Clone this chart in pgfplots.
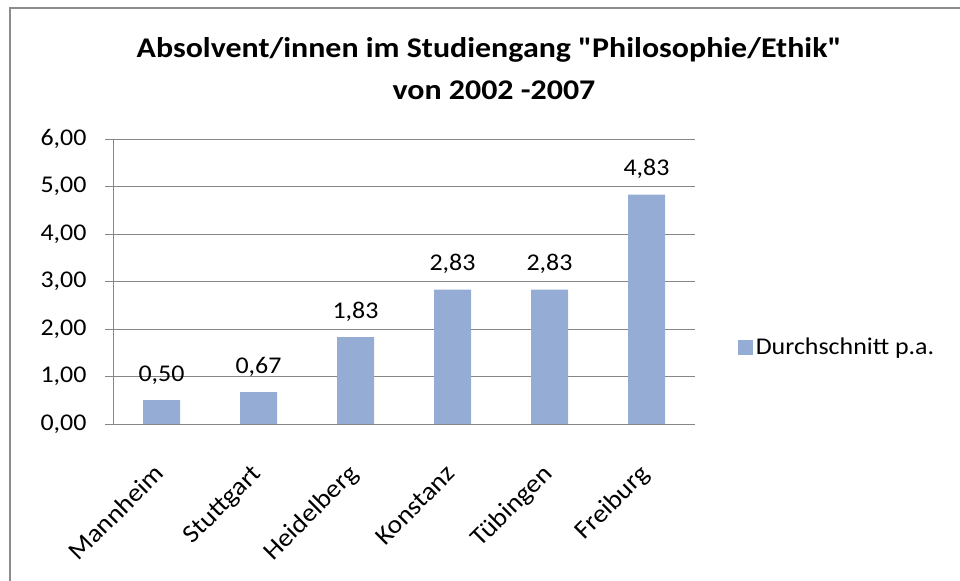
\documentclass[border=0pt]{standalone}
\usepackage{pgfplots}
\pgfplotsset{compat=1.18}
\usepackage{fontspec}
\setmainfont{Carlito}[Ligatures=TeXOff, FakeStretch=1.08]
\newfontfamily\titlefont{Carlito}[Ligatures=TeXOff, FakeStretch=1.12]
\definecolor{barcol}{RGB}{149,173,213}
\definecolor{gridcol}{RGB}{134,134,134}
\definecolor{framecol}{RGB}{140,140,140}
\begin{document}
\begin{tikzpicture}[x=1bp,y=1bp]
\path[use as bounding box] (0,0) rectangle (960,581);
\draw[framecol, line width=2.5bp] (10,-5) -- (10,573) -- (965,573);
\node[font=\fontsize{28.5bp}{34bp}\titlefont\bfseries, anchor=base] at (489,523) {Absolvent/innen im Studiengang "Philosophie/Ethik"};
\node[font=\fontsize{28.5bp}{34bp}\titlefont\bfseries, anchor=base] at (494,481) {von 2002 -2007};
\begin{axis}[
  at={(113bp,157bp)}, anchor=south west,
  scale only axis, width=582bp, height=285bp,
  xmin=-0.5, xmax=5.5, ymin=0, ymax=6,
  ytick={0,1,...,6},
  xtick={0,...,5},
  xticklabels={Mannheim,Stuttgart,Heidelberg,Konstanz,Tübingen,Freiburg},
  major x tick style={draw=none},
  extra x ticks={-0.5,0.5,1.5,2.5,3.5,4.5,5.5},
  extra x tick labels={},
  extra x tick style={major tick length=8bp, tick align=outside, tick style={draw=gridcol, line width=0.8bp}, grid=none},
  ymajorgrids, grid style={gridcol, line width=0.8bp},
  axis x line*=bottom, axis y line*=left,
  axis line style={gridcol, line width=0.8bp, -},
  y tick style={draw=gridcol, line width=0.8bp},
  ytick align=outside, major tick length=8bp,
  tick label style={font=\fontsize{24bp}{28bp}\selectfont},
  xticklabel style={font=\fontsize{25.5bp}{28bp}\selectfont, yshift=-43bp, xshift=4bp, rotate=45, anchor=base east, inner sep=0bp},
  yticklabel style={xshift=-15bp},
  /pgf/number format/assume math mode=true,
  yticklabel style={/pgf/number format/fixed, /pgf/number format/fixed zerofill, /pgf/number format/precision=2, /pgf/number format/use comma},
  ybar, bar width=37bp,
  nodes near coords,
  nodes near coords style={font=\fontsize{24bp}{28bp}\selectfont, yshift=12bp, /pgf/number format/fixed, /pgf/number format/fixed zerofill, /pgf/number format/precision=2, /pgf/number format/use comma, /pgf/number format/assume math mode=true},
  legend style={at={(1.074,0.27)}, anchor=west, draw=none, fill=none, inner sep=0pt, font=\fontsize{24bp}{28bp}\selectfont, nodes={inner sep=2.5bp}},
  legend image code/.code={\fill[barcol] (0bp,-7.5bp) rectangle (15bp,7.5bp);},
]
\addplot[fill=barcol, draw=none] coordinates {(0,0.50) (1,0.67) (2,1.83) (3,2.83) (4,2.83) (5,4.83)};
\addlegendentry{Durchschnitt p.a.}
\end{axis}
\end{tikzpicture}
\end{document}
